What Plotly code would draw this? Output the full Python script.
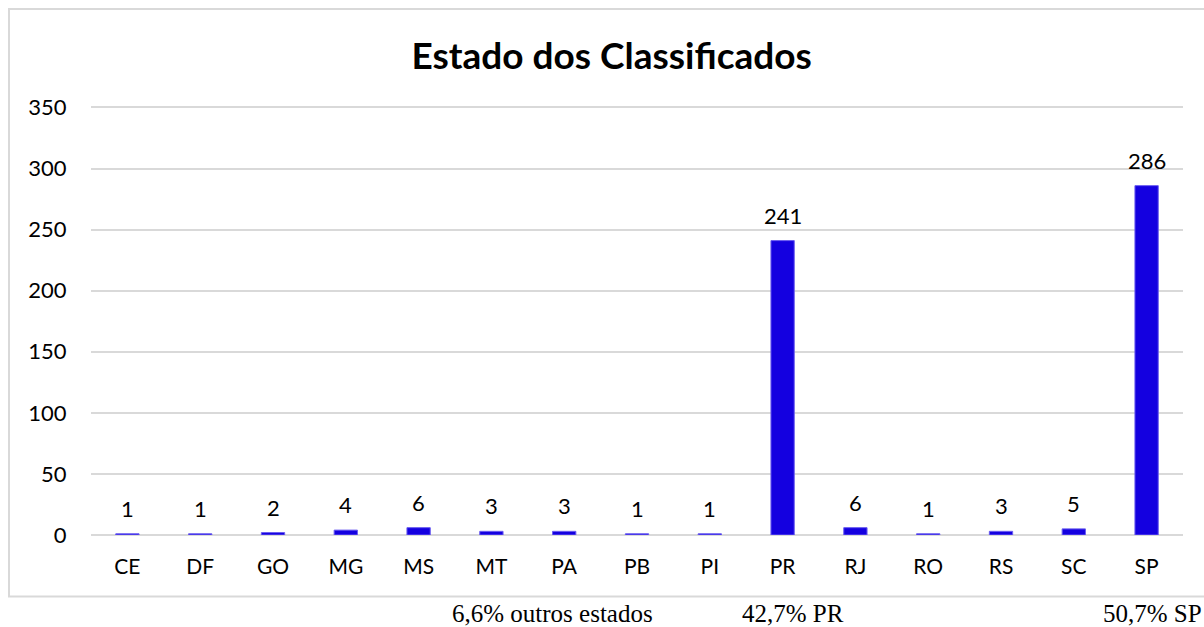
import plotly.graph_objects as go

# Data
estados = ["CE", "DF", "GO", "MG", "MS", "MT", "PA", "PB", "PI", "PR", "RJ", "RO", "RS", "SC", "SP"]
classificados = [1, 1, 2, 4, 6, 3, 3, 1, 1, 241, 6, 1, 3, 5, 286]
y_ticks = [0, 50, 100, 150, 200, 250, 300, 350]

# Notes printed under the chart box
notas = ["6,6% outros estados", "42,7% PR", "50,7% SP"]
notas_x = [0.3288, 0.5943, 1.0188]
notas_anchor = ["left", "left", "right"]

COLOR_BAR = "#1400E0"
COLOR_GRID = "#D9D9D9"
COLOR_TEXT = "#000000"
FONT = "Lato"

# plot area: y=0 at 535px, 1.2214 px per unit
TOP_MARGIN = 105
PLOT_H = 430

fig = go.Figure()
fig.add_trace(go.Bar(
    x=estados,
    y=classificados,
    marker=dict(color=COLOR_BAR, line=dict(color="#6A5CF0", width=1)),
    width=0.32,
    hoverinfo="x+y",
))

# value labels above each bar
annotations = []
for est, val in zip(estados, classificados):
    annotations.append(dict(
        x=est, y=val, xref="x", yref="y",
        text=str(val), showarrow=False,
        yanchor="bottom", yshift=10,
        font=dict(family=FONT, size=22, color=COLOR_TEXT),
    ))

for txt, xp, anc in zip(notas, notas_x, notas_anchor):
    annotations.append(dict(
        x=xp, y=(535 - 628.5) / PLOT_H, xref="paper", yref="paper",
        text=txt, showarrow=False,
        xanchor=anc, yanchor="bottom",
        font=dict(family="Liberation Serif", size=25, color=COLOR_TEXT),
    ))

fig.update_layout(
    width=1204,
    height=627,
    paper_bgcolor="white",
    plot_bgcolor="white",
    showlegend=False,
    margin=dict(l=91, r=21, t=TOP_MARGIN, b=92),
    title=dict(
        text="<b>Estado dos Classificados</b>",
        x=0.508, xanchor="center",
        y=1 - 56 / 627, yanchor="middle",
        font=dict(family=FONT, size=37, color=COLOR_TEXT),
    ),
    annotations=annotations,
    shapes=[dict(
        type="rect", xref="paper", yref="paper",
        x0=-0.0751, x1=1.05,
        y0=(535 - 596.5) / PLOT_H, y1=(535 - 9) / PLOT_H,
        line=dict(color=COLOR_GRID, width=2),
        fillcolor="rgba(0,0,0,0)", layer="below",
    )],
)

fig.update_xaxes(
    showgrid=False,
    showline=False,
    ticks="outside", ticklen=13, tickcolor="rgba(0,0,0,0)",
    tickfont=dict(family=FONT, size=21, color=COLOR_TEXT),
)
fig.update_yaxes(
    range=[0, 352],
    tickvals=y_ticks,
    showgrid=True, gridcolor=COLOR_GRID, gridwidth=2,
    zeroline=True, zerolinecolor=COLOR_GRID, zerolinewidth=2,
    showline=False,
    ticks="outside", ticklen=19, tickcolor="rgba(0,0,0,0)",
    tickfont=dict(family=FONT, size=22, color=COLOR_TEXT),
)

# the page body has a default 8px margin; drop it so the figure fills the window
fig.write_html(
    "out.html",
    config={"displayModeBar": False},
    post_script="document.body.style.margin='0';",
)
